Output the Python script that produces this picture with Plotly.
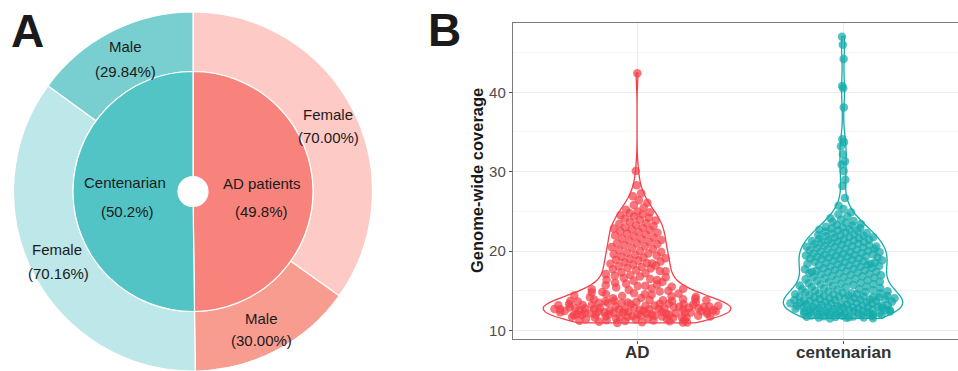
import numpy as np
import plotly.graph_objects as go

# ---------------- Data ----------------
groups = ["AD patients", "Centenarian"]
group_pct = [49.8, 50.2]
sex_labels = ["Female", "Male"]
ad_sex_pct = [70.00, 30.00]
cent_sex_pct = [70.16, 29.84]

violin_cats = ["AD", "centenarian"]
y_ticks = [10, 20, 30, 40]

ad_cov = [
    10.95, 11.0, 11.05, 11.1, 11.15, 11.2, 11.22, 11.25, 11.3, 11.35, 11.4, 11.42, 11.45, 11.5, 11.02,
    11.55, 11.6, 11.65, 11.7, 11.72, 11.75, 11.8, 11.85, 11.9, 11.95, 11.57, 11.67, 11.77, 11.87, 11.97, 11.63, 11.83, 11.91,
    12.0, 12.05, 12.1, 12.15, 12.2, 12.22, 12.25, 12.3, 12.35, 12.4, 12.45, 12.02, 12.08, 12.18, 12.28, 12.38, 12.06, 12.16, 12.26, 12.36, 12.46, 12.11, 12.31, 12.41,
    12.5, 12.55, 12.6, 12.65, 12.7, 12.72, 12.75, 12.8, 12.85, 12.9, 12.95, 12.52, 12.58, 12.68, 12.78, 12.88, 12.56, 12.66, 12.76, 12.86, 12.96, 12.61, 12.81,
    13.0, 13.05, 13.1, 13.15, 13.2, 13.25, 13.3, 13.35, 13.4, 13.45, 13.02, 13.12, 13.22, 13.32, 13.42, 13.17, 13.37,
    13.5, 13.55, 13.6, 13.65, 13.7, 13.75, 13.8, 13.85, 13.9, 13.95, 13.52, 13.72, 13.82, 13.67,
    14.0, 14.1, 14.2, 14.3, 14.35, 14.4, 14.5, 14.6, 14.65, 14.7, 14.8, 14.9, 14.05, 14.25, 14.55, 14.85,
    15.0, 15.1, 15.2, 15.3, 15.4, 15.5, 15.6, 15.7, 15.8, 15.9, 15.25, 15.65,
    16.0, 16.1, 16.25, 16.4, 16.5, 16.6, 16.7, 16.8, 16.9, 16.35,
    17.0, 17.1, 17.2, 17.35, 17.5, 17.6, 17.7, 17.8, 17.9, 17.45,
    18.0, 18.1, 18.2, 18.3, 18.4, 18.5, 18.6, 18.7, 18.8, 18.9, 18.45,
    19.0, 19.1, 19.2, 19.3, 19.45, 19.5, 19.6, 19.7, 19.8, 19.9,
    20.0, 20.1, 20.25, 20.4, 20.5, 20.6, 20.75, 20.85, 20.95,
    21.0, 21.15, 21.3, 21.4, 21.5, 21.6, 21.7, 21.85, 21.95,
    22.05, 22.2, 22.3, 22.4, 22.5, 22.65, 22.75, 22.85, 22.95,
    23.0, 23.15, 23.3, 23.45, 23.55, 23.7, 23.85, 23.95,
    24.1, 24.2, 24.35, 24.5, 24.65, 24.8, 24.9,
    25.0, 25.2, 25.5, 25.8,
    26.1, 26.4, 26.9,
    27.3,
    28.3, 30.1, 42.4,
]

cent_cov = [
    11.52, 11.55, 11.6, 11.62, 11.65, 11.7, 11.72, 11.75, 11.8, 11.82, 11.85, 11.9, 11.92, 11.95, 11.98, 11.66,
    12.0, 12.03, 12.07, 12.1, 12.15, 12.18, 12.2, 12.24, 12.3, 12.33, 12.36, 12.4, 12.45, 12.48, 12.05, 12.22, 12.38,
    12.5, 12.53, 12.56, 12.6, 12.66, 12.7, 12.72, 12.75, 12.8, 12.84, 12.87, 12.9, 12.93, 12.96, 12.99, 12.58, 12.88,
    13.0, 13.03, 13.06, 13.1, 13.16, 13.2, 13.24, 13.27, 13.3, 13.36, 13.4, 13.43, 13.46, 13.49, 13.12, 13.22,
    13.5, 13.54, 13.58, 13.62, 13.66, 13.7, 13.76, 13.8, 13.84, 13.88, 13.92, 13.96, 13.99, 13.78, 13.9,
    14.02, 14.06, 14.1, 14.14, 14.18, 14.22, 14.26, 14.3, 14.34, 14.38, 14.42, 14.46, 14.2,
    14.52, 14.56, 14.6, 14.65, 14.7, 14.75, 14.8, 14.85, 14.9, 14.95, 14.68,
    15.02, 15.08, 15.12, 15.18, 15.24, 15.3, 15.36, 15.42, 15.48, 15.54, 15.6, 15.66, 15.72, 15.78, 15.84, 15.9, 15.96,
    16.02, 16.08, 16.15, 16.2, 16.26, 16.32, 16.4, 16.46, 16.52, 16.58, 16.64, 16.7, 16.76, 16.82, 16.88, 16.95,
    17.02, 17.08, 17.14, 17.2, 17.25, 17.3, 17.36, 17.42, 17.48, 17.54, 17.6, 17.66, 17.72, 17.78, 17.84, 17.9, 17.96, 17.4,
    18.02, 18.07, 18.12, 18.18, 18.23, 18.28, 18.33, 18.38, 18.44, 18.5, 18.55, 18.6, 18.66, 18.72, 18.78, 18.84, 18.9, 18.96, 18.4,
    19.02, 19.06, 19.1, 19.15, 19.2, 19.25, 19.3, 19.35, 19.4, 19.45, 19.5, 19.55, 19.6, 19.65, 19.7, 19.75, 19.8, 19.85, 19.9, 19.96,
    20.02, 20.07, 20.12, 20.17, 20.22, 20.27, 20.32, 20.38, 20.44, 20.5, 20.56, 20.62, 20.68, 20.74, 20.8, 20.86, 20.92, 20.98, 20.58,
    21.03, 21.08, 21.14, 21.2, 21.26, 21.32, 21.38, 21.44, 21.5, 21.56, 21.62, 21.68, 21.74, 21.8, 21.86, 21.92, 21.98,
    22.04, 22.12, 22.2, 22.28, 22.36, 22.44, 22.52, 22.6, 22.68, 22.76, 22.84, 22.92, 22.98,
    23.05, 23.18, 23.3, 23.42, 23.55, 23.68, 23.8, 23.94,
    24.15, 24.4, 24.65, 24.9,
    25.3, 25.7,
    26.7, 28.2, 29.0, 30.1, 30.9, 31.3, 32.2, 33.2, 33.7, 34.1, 38.1, 40.5, 40.8, 44.2, 46.0, 47.0,
]

# ---------------- Styling ----------------
W, H = 958, 371
FONT = "Liberation Sans, Arial, sans-serif"
inner_colors = ["#F8837C", "#52C4C6"]
outer_colors = ["#FECAC5", "#F99C90", "#BDE7E8", "#79CFD0"]
red, teal = "#F5404A", "#14ABAB"


def px_x(x):
    return x / W


def px_y(y):
    return 1 - y / H


def nrd0(v):
    v = np.asarray(v, float)
    q75, q25 = np.percentile(v, [75, 25])
    return 0.9 * min(v.std(ddof=1), (q75 - q25) / 1.34) * len(v) ** -0.2


def kde(at, v, bw):
    v = np.asarray(v, float)
    at = np.asarray(at, float)
    z = (at[:, None] - v[None, :]) / bw
    return np.exp(-0.5 * z * z).sum(axis=1) / (len(v) * bw * np.sqrt(2 * np.pi))


fig = go.Figure()

# ---- Panel A: nested donut ----
outer_vals = [group_pct[0] * p / 100 for p in ad_sex_pct] + [group_pct[1] * p / 100 for p in cent_sex_pct]
outer_labels = [f"AD {s}" for s in sex_labels] + [f"Centenarian {s}" for s in sex_labels]

cx, cy = 193, 191.5
R_out, R_in, R_hole = 179.5, 120, 15

fig.add_trace(go.Pie(
    values=outer_vals, labels=outer_labels, sort=False, direction="clockwise", rotation=0,
    hole=R_in / R_out, textinfo="none", hoverinfo="label+value",
    marker=dict(colors=outer_colors, line=dict(color="white", width=1.2)),
    domain=dict(x=[px_x(cx - R_out), px_x(cx + R_out)], y=[px_y(cy + R_out), px_y(cy - R_out)]),
    showlegend=False,
))
fig.add_trace(go.Pie(
    values=group_pct, labels=groups, sort=False, direction="clockwise", rotation=0,
    hole=R_hole / R_in, textinfo="none", hoverinfo="label+value",
    marker=dict(colors=inner_colors, line=dict(color="white", width=1.2)),
    domain=dict(x=[px_x(cx - R_in), px_x(cx + R_in)], y=[px_y(cy + R_in), px_y(cy - R_in)]),
    showlegend=False,
))

# ---- Panel B: violins with sina-style point spread ----
violin_specs = [(0, ad_cov, red, 0.91), (1, cent_cov, teal, 0.58)]
for pos, vals, col, wd in violin_specs:
    bw = nrd0(vals)
    fig.add_trace(go.Violin(
        x=[pos] * len(vals), y=vals, name=violin_cats[pos],
        line=dict(color=col, width=1.3), fillcolor="white",
        points=False, spanmode="hard", bandwidth=bw,
        width=wd, scalemode="width",
        box_visible=False, meanline_visible=False,
        showlegend=False, hoverinfo="skip",
    ))

for pos, vals, col, wd in violin_specs:
    bw = nrd0(vals)
    v = np.asarray(vals, float)
    grid = np.linspace(v.min(), v.max(), 512)
    dmax = kde(grid, v, bw).max()
    dens = kde(v, v, bw) / dmax
    # deterministic low-discrepancy spread (golden-ratio sequence) within the violin envelope
    u = 2 * ((np.arange(len(v)) * 0.6180339887 + 0.31) % 1.0) - 1
    xs = pos + u * dens * (wd / 2) * 0.9
    fig.add_trace(go.Scatter(
        x=xs, y=v, mode="markers", name=violin_cats[pos],
        marker=dict(color=col, size=8.5, opacity=0.72, line=dict(width=0)),
        showlegend=False, hovertemplate="%{y}<extra></extra>",
    ))

annotations = []
# pie labels
label_pos = [
    ("Male", 125, 47), (f"({cent_sex_pct[1]:.2f}%)", 125, 71),
    ("Female", 328, 114), (f"({ad_sex_pct[0]:.2f}%)", 328, 137),
    ("Centenarian", 125, 182), (f"({group_pct[1]:.1f}%)", 127, 211),
    ("AD patients", 262, 183), (f"({group_pct[0]:.1f}%)", 261, 211),
    ("Female", 57, 249), (f"({cent_sex_pct[0]:.2f}%)", 58, 273),
    ("Male", 261, 318), (f"({ad_sex_pct[1]:.2f}%)", 261, 340),
]
for t, x, y in label_pos:
    annotations.append(dict(text=t, x=px_x(x), y=px_y(y), xref="paper", yref="paper",
                            showarrow=False, xanchor="center", yanchor="middle",
                            font=dict(family=FONT, size=15, color="#1a1a1a")))

# panel letters
for t, x, y in [("A", 27, 31), ("B", 444, 30)]:
    annotations.append(dict(text=f"<b>{t}</b>", x=px_x(x), y=px_y(y), xref="paper", yref="paper",
                            showarrow=False, xanchor="center", yanchor="middle",
                            font=dict(family=FONT, size=46, color="#1a1a1a")))

# y axis title
annotations.append(dict(text="<b>Genome-wide coverage</b>", x=px_x(477), y=px_y(181), xref="paper", yref="paper",
                        showarrow=False, textangle=-90, xanchor="center", yanchor="middle",
                        font=dict(family=FONT, size=16.5, color="#1a1a1a")))

# x category labels (placed under their ticks)
for i, c in enumerate(violin_cats):
    annotations.append(dict(text=f"<b>{c}</b>", x=i, y=px_y(352), xref="x", yref="paper",
                            showarrow=False, xanchor="center", yanchor="middle",
                            font=dict(family=FONT, size=17, color="#333333")))

fig.update_layout(
    width=W, height=H, margin=dict(l=0, r=0, t=0, b=0),
    paper_bgcolor="white", plot_bgcolor="white",
    violinmode="overlay",
    annotations=annotations,
    xaxis=dict(
        domain=[px_x(513), 1.0], range=[-0.602, 1.558],
        tickvals=[0, 1], showticklabels=False,
        showline=True, linecolor="#7a7a7a", linewidth=1.4, mirror=True,
        showgrid=True, gridcolor="#EBEBEB", gridwidth=1.2,
        ticks="outside", ticklen=3, tickcolor="#555", tickwidth=1,
        zeroline=False, automargin=False, fixedrange=True,
    ),
    yaxis=dict(
        domain=[px_y(339.3), px_y(23.3)], range=[8.89, 48.69],
        tickvals=y_ticks, ticktext=[str(v) for v in y_ticks],
        showline=True, linecolor="#7a7a7a", linewidth=1.4,
        showgrid=True, gridcolor="#EBEBEB", gridwidth=1.2,
        minor=dict(tickvals=[15, 25, 35, 45], showgrid=True, gridcolor="#F4F4F4", gridwidth=1, ticks=""),
        ticks="outside", ticklen=3, tickcolor="#555", tickwidth=1,
        tickfont=dict(family=FONT, size=15, color="#4D4D4D"),
        zeroline=False, automargin=False, fixedrange=True,
    ),
)

fig.write_html("out.html")
